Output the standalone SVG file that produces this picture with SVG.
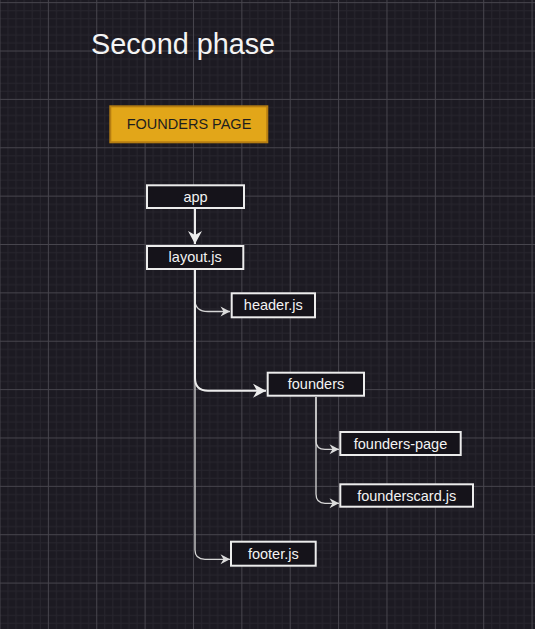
<svg xmlns="http://www.w3.org/2000/svg" width="535" height="629" viewBox="0 0 535 629">
<defs>
<pattern id="grid" patternUnits="userSpaceOnUse" x="-0.5" y="2.15" width="48.37" height="48.37">
<rect width="48.37" height="48.37" fill="#1c1a22"/>
<path d="M8.56,0V48.37M16.62,0V48.37M24.68,0V48.37M32.74,0V48.37M40.8,0V48.37M0,8.56H48.37M0,16.62H48.37M0,24.68H48.37M0,32.74H48.37M0,40.8H48.37" stroke="#27252e" stroke-width="1" fill="none"/>
<path d="M0.5,0V48.37M0,0.5H48.37" stroke="#47454d" stroke-width="1" fill="none"/>
</pattern>
<marker id="headThick" markerUnits="userSpaceOnUse" viewBox="-15 -8 16 16" refX="0" refY="0" markerWidth="16" markerHeight="16" orient="auto">
<path d="M0,0 L-13,-7 L-9,0 L-13,7 Z" fill="#ececec"/>
</marker>
<marker id="headThin" markerUnits="userSpaceOnUse" viewBox="-11 -6 12 12" refX="0" refY="0" markerWidth="12" markerHeight="12" orient="auto">
<path d="M0,0 L-9.5,-5 L-6.5,0 L-9.5,5 Z" fill="#dcdcdc"/>
</marker>
</defs>
<style>
.node rect{fill:#15131a;stroke:#ececec;stroke-width:2}
.node text{font-family:"Liberation Sans",Arial,sans-serif;font-size:14.5px;fill:#f2f2f2;text-anchor:middle}
.thin{fill:none;stroke:#d6d6d6;stroke-width:1.3;marker-end:url(#headThin)}
.thick{fill:none;stroke:#ececec;stroke-width:2;marker-end:url(#headThick)}
</style>
<rect width="535" height="629" fill="url(#grid)"/>
<text id="title" x="91" y="54.3" font-family="'Liberation Sans',Arial,sans-serif" font-size="28.8" fill="#f4f4f4">Second phase</text>
<g id="founders-page-label">
<rect x="110.3" y="106.3" width="157" height="36" fill="#e2a619" stroke="#b57d12" stroke-width="2"/>
<text x="189" y="129.3" font-family="'Liberation Sans',Arial,sans-serif" font-size="14.5" fill="#1e1e1e" text-anchor="middle">FOUNDERS PAGE</text>
</g>
<g id="connectors">
<path class="thin" d="M195,270 L195,550 Q195,559.3 205,559.3 L230,559.3"/>
<path class="thin" d="M195,270 L195,300 C195,308 199,311.5 208,311.5 L230,311.5"/>
<path class="thin" d="M316,397 L316,441 Q316,449.3 325,449.3 L339,449.3"/>
<path class="thin" d="M316,397 L316,494 Q316,503.3 325,503.3 L339,503.3"/>
<path class="thick" d="M195,209 L195,244"/>
<path class="thick" d="M195,270 L195,378 Q195,390.7 208,390.7 L266,390.7"/>
</g>
<g id="app" class="node"><rect x="147" y="185.3" width="97" height="22.7"/><text x="195.5" y="201.8">app</text></g>
<g id="layout" class="node"><rect x="147" y="246" width="96.3" height="23"/><text x="195.2" y="262.3">layout.js</text></g>
<g id="header" class="node"><rect x="231.7" y="293.3" width="83.3" height="24"/><text x="273.3" y="310.3">header.js</text></g>
<g id="founders" class="node"><rect x="267.7" y="372.7" width="96.3" height="23"/><text x="316" y="389">founders</text></g>
<g id="founders-page" class="node"><rect x="340.3" y="432" width="120.4" height="23"/><text x="400.5" y="448.5">founders-page</text></g>
<g id="founderscard" class="node"><rect x="340.3" y="484.3" width="132.7" height="22.4"/><text x="406.7" y="500.5">founderscard.js</text></g>
<g id="footer" class="node"><rect x="231" y="541.7" width="84.7" height="24"/><text x="273.3" y="558.7">footer.js</text></g>
</svg>
